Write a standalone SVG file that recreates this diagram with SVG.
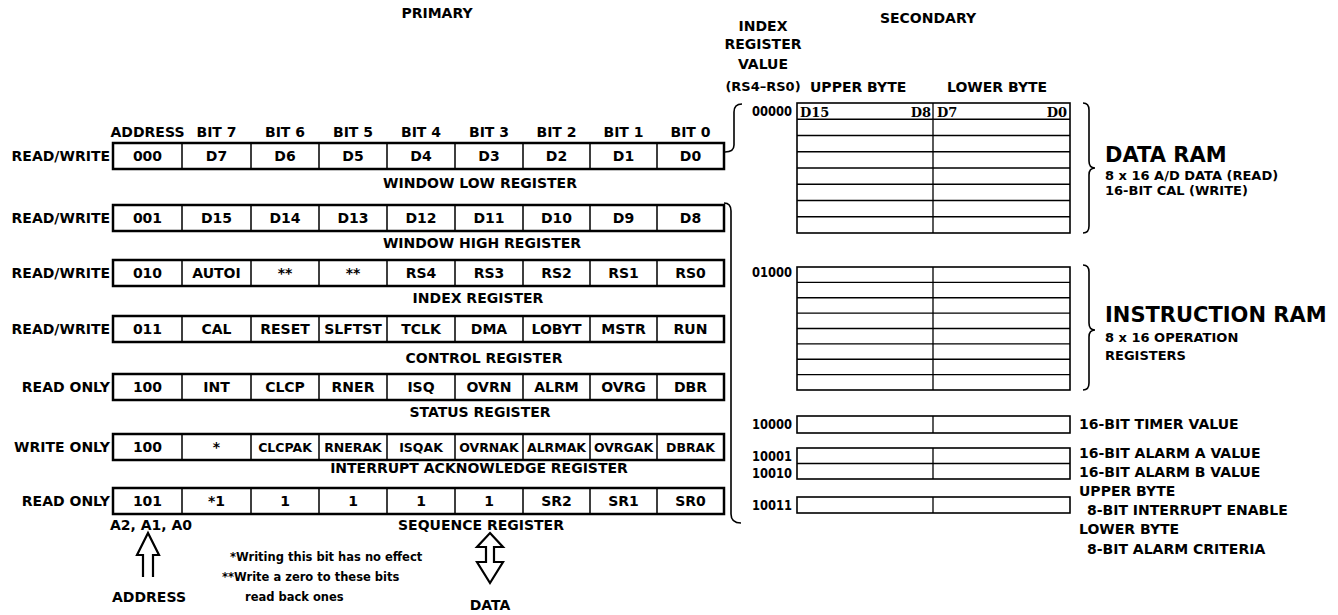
<svg xmlns="http://www.w3.org/2000/svg" xmlns:xlink="http://www.w3.org/1999/xlink" width="1338" height="615" viewBox="0 0 1338 615">
<style>
text{font-family:"DejaVu Sans","Liberation Sans",sans-serif;font-weight:bold;font-size:14px;fill:#000}
.m{text-anchor:middle}
.e{text-anchor:end}
.sm{font-size:13px}
.ak{font-size:12.5px}
.note{font-size:11.5px}
.big{font-size:21px}
.serif{font-family:"DejaVu Serif","Liberation Serif",serif;font-size:13px}
.frame rect{fill:#fff;stroke:#000;stroke-width:2.5}
.frame path{fill:none;stroke:#000;stroke-width:1.5}
.ram{fill:#fff;stroke:#000;stroke-width:1.6}
.rl{fill:none;stroke:#000;stroke-width:1.3}
.br{fill:none;stroke:#000;stroke-width:1.6}
.arr{fill:#fff;stroke:#000;stroke-width:2.2;stroke-linejoin:miter}
</style>
<defs>
<g id="frame" class="frame">
<rect x="113" y="0" width="611" height="26"/>
<path d="M182 0v26M251 0v26M319 0v26M387 0v26M455 0v26M523 0v26M590 0v26M657 0v26"/>
</g>
</defs>
<rect width="1338" height="615" fill="#fff"/>

<g id="titles">
<text x="437" y="18" class="m">PRIMARY</text>
<text x="928" y="23" class="m">SECONDARY</text>
<text x="763" y="31" class="m">INDEX</text>
<text x="763" y="49" class="m">REGISTER</text>
<text x="763" y="69" class="m">VALUE</text>
<text x="763" y="91" class="m sm">(RS4–RS0)</text>
<text x="810" y="92">UPPER BYTE</text>
<text x="947" y="92">LOWER BYTE</text>
</g>

<g id="primary-header">
<text x="147.5" y="137" class="m">ADDRESS</text>
<text x="216.5" y="137" class="m">BIT 7</text>
<text x="285" y="137" class="m">BIT 6</text>
<text x="353" y="137" class="m">BIT 5</text>
<text x="421" y="137" class="m">BIT 4</text>
<text x="489" y="137" class="m">BIT 3</text>
<text x="556.5" y="137" class="m">BIT 2</text>
<text x="623.5" y="137" class="m">BIT 1</text>
<text x="690.5" y="137" class="m">BIT 0</text>
</g>

<g id="reg-window-low">
<text x="110" y="161" class="e">READ/WRITE</text>
<use xlink:href="#frame" href="#frame" y="143"/>
<text x="147.5" y="161" class="m">000</text>
<text x="216.5" y="161" class="m">D7</text>
<text x="285" y="161" class="m">D6</text>
<text x="353" y="161" class="m">D5</text>
<text x="421" y="161" class="m">D4</text>
<text x="489" y="161" class="m">D3</text>
<text x="556.5" y="161" class="m">D2</text>
<text x="623.5" y="161" class="m">D1</text>
<text x="690.5" y="161" class="m">D0</text>
<text x="480" y="188" class="m">WINDOW LOW REGISTER</text>
</g>

<g id="reg-window-high">
<text x="110" y="223" class="e">READ/WRITE</text>
<use xlink:href="#frame" href="#frame" y="205"/>
<text x="147.5" y="223" class="m">001</text>
<text x="216.5" y="223" class="m">D15</text>
<text x="285" y="223" class="m">D14</text>
<text x="353" y="223" class="m">D13</text>
<text x="421" y="223" class="m">D12</text>
<text x="489" y="223" class="m">D11</text>
<text x="556.5" y="223" class="m">D10</text>
<text x="623.5" y="223" class="m">D9</text>
<text x="690.5" y="223" class="m">D8</text>
<text x="482" y="248" class="m">WINDOW HIGH REGISTER</text>
</g>

<g id="reg-index">
<text x="110" y="278" class="e">READ/WRITE</text>
<use xlink:href="#frame" href="#frame" y="260"/>
<text x="147.5" y="278" class="m">010</text>
<text x="216.5" y="278" class="m">AUTOI</text>
<text x="285" y="278" class="m">**</text>
<text x="353" y="278" class="m">**</text>
<text x="421" y="278" class="m">RS4</text>
<text x="489" y="278" class="m">RS3</text>
<text x="556.5" y="278" class="m">RS2</text>
<text x="623.5" y="278" class="m">RS1</text>
<text x="690.5" y="278" class="m">RS0</text>
<text x="478" y="303" class="m">INDEX REGISTER</text>
</g>

<g id="reg-control">
<text x="110" y="334" class="e">READ/WRITE</text>
<use xlink:href="#frame" href="#frame" y="316"/>
<text x="147.5" y="334" class="m">011</text>
<text x="216.5" y="334" class="m">CAL</text>
<text x="285" y="334" class="m">RESET</text>
<text x="353" y="334" class="m">SLFTST</text>
<text x="421" y="334" class="m">TCLK</text>
<text x="489" y="334" class="m">DMA</text>
<text x="556.5" y="334" class="m">LOBYT</text>
<text x="623.5" y="334" class="m">MSTR</text>
<text x="690.5" y="334" class="m">RUN</text>
<text x="484" y="363" class="m">CONTROL REGISTER</text>
</g>

<g id="reg-status">
<text x="110" y="392" class="e">READ ONLY</text>
<use xlink:href="#frame" href="#frame" y="374"/>
<text x="147.5" y="392" class="m">100</text>
<text x="216.5" y="392" class="m">INT</text>
<text x="285" y="392" class="m">CLCP</text>
<text x="353" y="392" class="m">RNER</text>
<text x="421" y="392" class="m">ISQ</text>
<text x="489" y="392" class="m">OVRN</text>
<text x="556.5" y="392" class="m">ALRM</text>
<text x="623.5" y="392" class="m">OVRG</text>
<text x="690.5" y="392" class="m">DBR</text>
<text x="480" y="417" class="m">STATUS REGISTER</text>
</g>

<g id="reg-int-ack">
<text x="110" y="452" class="e">WRITE ONLY</text>
<use xlink:href="#frame" href="#frame" y="434"/>
<text x="147.5" y="452" class="m">100</text>
<text x="216.5" y="452" class="m">*</text>
<text x="285" y="452" class="m ak">CLCPAK</text>
<text x="353" y="452" class="m ak">RNERAK</text>
<text x="421" y="452" class="m ak">ISQAK</text>
<text x="489" y="452" class="m ak">OVRNAK</text>
<text x="556.5" y="452" class="m ak">ALRMAK</text>
<text x="623.5" y="452" class="m ak">OVRGAK</text>
<text x="690.5" y="452" class="m ak">DBRAK</text>
<text x="479" y="473" class="m">INTERRUPT ACKNOWLEDGE REGISTER</text>
</g>

<g id="reg-sequence">
<text x="110" y="506" class="e">READ ONLY</text>
<use xlink:href="#frame" href="#frame" y="488"/>
<text x="147.5" y="506" class="m">101</text>
<text x="216.5" y="506" class="m">*1</text>
<text x="285" y="506" class="m">1</text>
<text x="353" y="506" class="m">1</text>
<text x="421" y="506" class="m">1</text>
<text x="489" y="506" class="m">1</text>
<text x="556.5" y="506" class="m">SR2</text>
<text x="623.5" y="506" class="m">SR1</text>
<text x="690.5" y="506" class="m">SR0</text>
<text x="481" y="530" class="m">SEQUENCE REGISTER</text>
<text x="151" y="530" class="m">A2, A1, A0</text>
</g>

<g id="notes">
<text x="230" y="561" class="note">*Writing this bit has no effect</text>
<text x="222" y="581" class="note">**Write a zero to these bits</text>
<text x="245" y="601" class="note">read back ones</text>
</g>

<g id="data-ram">
<text x="792" y="116" class="e" textLength="40" lengthAdjust="spacingAndGlyphs">00000</text>
<rect class="ram" x="797" y="103" width="273" height="130"/>
<path class="rl" d="M933 103V233M797 119.25H1070M797 135.5H1070M797 151.75H1070M797 168H1070M797 184.25H1070M797 200.5H1070M797 216.75H1070"/>
<text x="800" y="117" class="serif">D15</text>
<text x="931" y="117" class="serif e">D8</text>
<text x="937" y="117" class="serif">D7</text>
<text x="1067" y="117" class="serif e">D0</text>
<text x="1105" y="162" class="big">DATA RAM</text>
<text x="1105" y="180" class="sm">8 x 16 A/D DATA (READ)</text>
<text x="1105" y="195" class="sm">16-BIT CAL (WRITE)</text>
</g>

<g id="instruction-ram">
<text x="792" y="277" class="e" textLength="40" lengthAdjust="spacingAndGlyphs">01000</text>
<rect class="ram" x="797" y="267" width="273" height="123"/>
<path class="rl" d="M933 267V390M797 282.4H1070M797 297.75H1070M797 313.1H1070M797 328.5H1070M797 343.9H1070M797 359.25H1070M797 374.6H1070"/>
<text x="1105" y="322" class="big">INSTRUCTION RAM</text>
<text x="1105" y="342" class="sm">8 x 16 OPERATION</text>
<text x="1105" y="360" class="sm">REGISTERS</text>
</g>

<g id="timer">
<text x="792" y="429" class="e" textLength="40" lengthAdjust="spacingAndGlyphs">10000</text>
<rect class="ram" x="797" y="416" width="273" height="17"/>
<path class="rl" d="M933 416V433"/>
<text x="1079" y="429">16-BIT TIMER VALUE</text>
</g>

<g id="alarm">
<text x="792" y="461" class="e" textLength="40" lengthAdjust="spacingAndGlyphs">10001</text>
<text x="792" y="478" class="e" textLength="40" lengthAdjust="spacingAndGlyphs">10010</text>
<rect class="ram" x="797" y="448" width="273" height="31"/>
<path class="rl" d="M933 448V479M797 463.5H1070"/>
<text x="1079" y="458">16-BIT ALARM A VALUE</text>
<text x="1079" y="477">16-BIT ALARM B VALUE</text>
</g>

<g id="int-enable">
<text x="792" y="510" class="e" textLength="40" lengthAdjust="spacingAndGlyphs">10011</text>
<rect class="ram" x="797" y="497" width="273" height="16"/>
<path class="rl" d="M933 497V513"/>
<text x="1079" y="496">UPPER BYTE</text>
<text x="1087" y="515">8-BIT INTERRUPT ENABLE</text>
<text x="1079" y="534">LOWER BYTE</text>
<text x="1087" y="554">8-BIT ALARM CRITERIA</text>
</g>

<g id="connectors">
<path class="br" d="M742 104q-8 0-8 8v33q0 7-9 7"/>
<path class="br" d="M724 203q7 0 7 8v303q0 9 10 9"/>
<path class="br" d="M1083 103q6 0 6 7v51q0 7 6 7q-6 0-6 7v51q0 7-6 7"/>
<path class="br" d="M1083 265q6 0 6 7v51q0 7 6 7q-6 0-6 7v46q0 7-6 7"/>
<path class="arr" d="M143 577V555H137L148 533L159 555H153V577"/>
<path class="arr" d="M490 533L503 547H494V562H503L490 583L477 562H486V547H477Z"/>
</g>

<g id="io-labels">
<text x="149" y="602" class="m">ADDRESS</text>
<text x="490" y="610" class="m">DATA</text>
</g>
</svg>
